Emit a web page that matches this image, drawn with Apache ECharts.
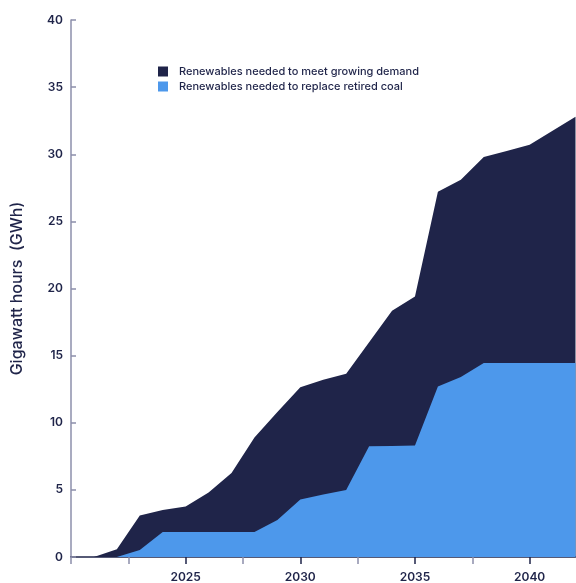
<!DOCTYPE html>
<html>
<head>
<meta charset="utf-8">
<script src="https://cdn.jsdelivr.net/npm/echarts@6/dist/echarts.min.js"></script>
<style>
  html, body {margin: 0; padding: 0; background: #fff;}
  #chart {width: 576px; height: 583px;}
</style>
</head>
<body>
<div id="chart"></div>
<script>
const years = [2020, 2021, 2022, 2023, 2024, 2025, 2026, 2027, 2028, 2029, 2030, 2031,
  2032, 2033, 2034, 2035, 2036, 2037, 2038, 2039, 2040, 2041, 2042];
// bottom layer
const retiredCoal = [0, 0, 0, 0.52, 1.86, 1.86, 1.86, 1.86, 1.86, 2.75, 4.28, 4.65,
  5.0, 8.25, 8.27, 8.3, 12.7, 13.4, 14.45, 14.45, 14.45, 14.45, 14.45];
// sits on top of the coal layer
const growingDemand = [0, 0, 0.57, 2.58, 1.64, 1.9, 2.94, 4.4, 7.04, 8.05, 8.36, 8.55,
  8.65, 7.75, 10.08, 11.1, 14.5, 14.7, 15.35, 15.8, 16.25, 17.3, 18.35];
const labelYears = [2025, 2030, 2035, 2040];
const minorTickYears = [2020, 2022.5, 2027.5, 2032.5, 2037.5];
const yTicks = [0, 5, 10, 15, 20, 25, 30, 35, 40];

const NAVY = '#1f2449';
const BLUE = '#4d98eb';
const GREY = '#8c8fab';
const FONT = 'Inter';

const DEMAND = 'Renewables needed to meet growing demand';
const COAL = 'Renewables needed to replace retired coal';

// the demand area is drawn down to zero, coal covers its lower part
const coalPts = years.map((y, i) => [y, retiredCoal[i]]);
const totalPts = years.map((y, i) => [y, retiredCoal[i] + growingDemand[i]]);

const chart = echarts.init(document.getElementById('chart'));
chart.setOption({
  animation: false,
  textStyle: {fontFamily: FONT, color: NAVY},
  grid: {left: 71, right: 0.5, top: 20, bottom: 24},
  legend: {
    orient: 'vertical',
    left: 153,
    top: 61,
    itemWidth: 10,
    itemHeight: 10,
    itemGap: 4,
    icon: 'rect',
    data: [DEMAND, COAL],
    textStyle: {fontFamily: FONT, fontSize: 11, fontWeight: 500, color: NAVY, padding: [0, 0, 0, 6]}
  },
  xAxis: [{
    type: 'value',
    min: 2020,
    max: 2042,
    axisLine: {show: true, lineStyle: {color: NAVY, width: 1.5}},
    axisTick: {show: true, customValues: labelYears, length: 7, lineStyle: {color: NAVY, width: 1.5}},
    axisLabel: {
      customValues: labelYears,
      margin: 14,
      formatter: (v) => String(v),
      fontFamily: FONT, fontSize: 12, fontWeight: 600, color: NAVY
    },
    splitLine: {show: false}
  }, {
    type: 'value',
    position: 'bottom',
    min: 2020,
    max: 2042,
    axisLine: {show: false},
    axisTick: {show: true, customValues: minorTickYears, length: 7, lineStyle: {color: GREY, width: 1.5}},
    axisLabel: {show: false},
    splitLine: {show: false}
  }],
  yAxis: {
    type: 'value',
    min: 0,
    max: 40,
    interval: 5,
    name: 'Gigawatt hours  (GWh)',
    nameLocation: 'middle',
    nameGap: 46,
    nameTextStyle: {fontFamily: FONT, fontSize: 16, fontWeight: 500, color: NAVY},
    axisLine: {show: true, lineStyle: {color: GREY, width: 1.5}},
    axisTick: {show: true, inside: true, length: 5, lineStyle: {color: GREY, width: 1.5}},
    axisLabel: {
      customValues: yTicks,
      margin: 8,
      fontFamily: FONT, fontSize: 12, fontWeight: 600, color: NAVY
    },
    splitLine: {show: false}
  },
  series: [{
    name: DEMAND,
    type: 'line',
    symbol: 'none',
    itemStyle: {color: NAVY},
    lineStyle: {width: 0},
    areaStyle: {color: NAVY, opacity: 1},
    data: totalPts,
    z: 1
  }, {
    name: COAL,
    type: 'line',
    symbol: 'none',
    itemStyle: {color: BLUE},
    lineStyle: {width: 0},
    areaStyle: {color: BLUE, opacity: 1},
    data: coalPts,
    z: 2
  }]
});
</script>
</body>
</html>
